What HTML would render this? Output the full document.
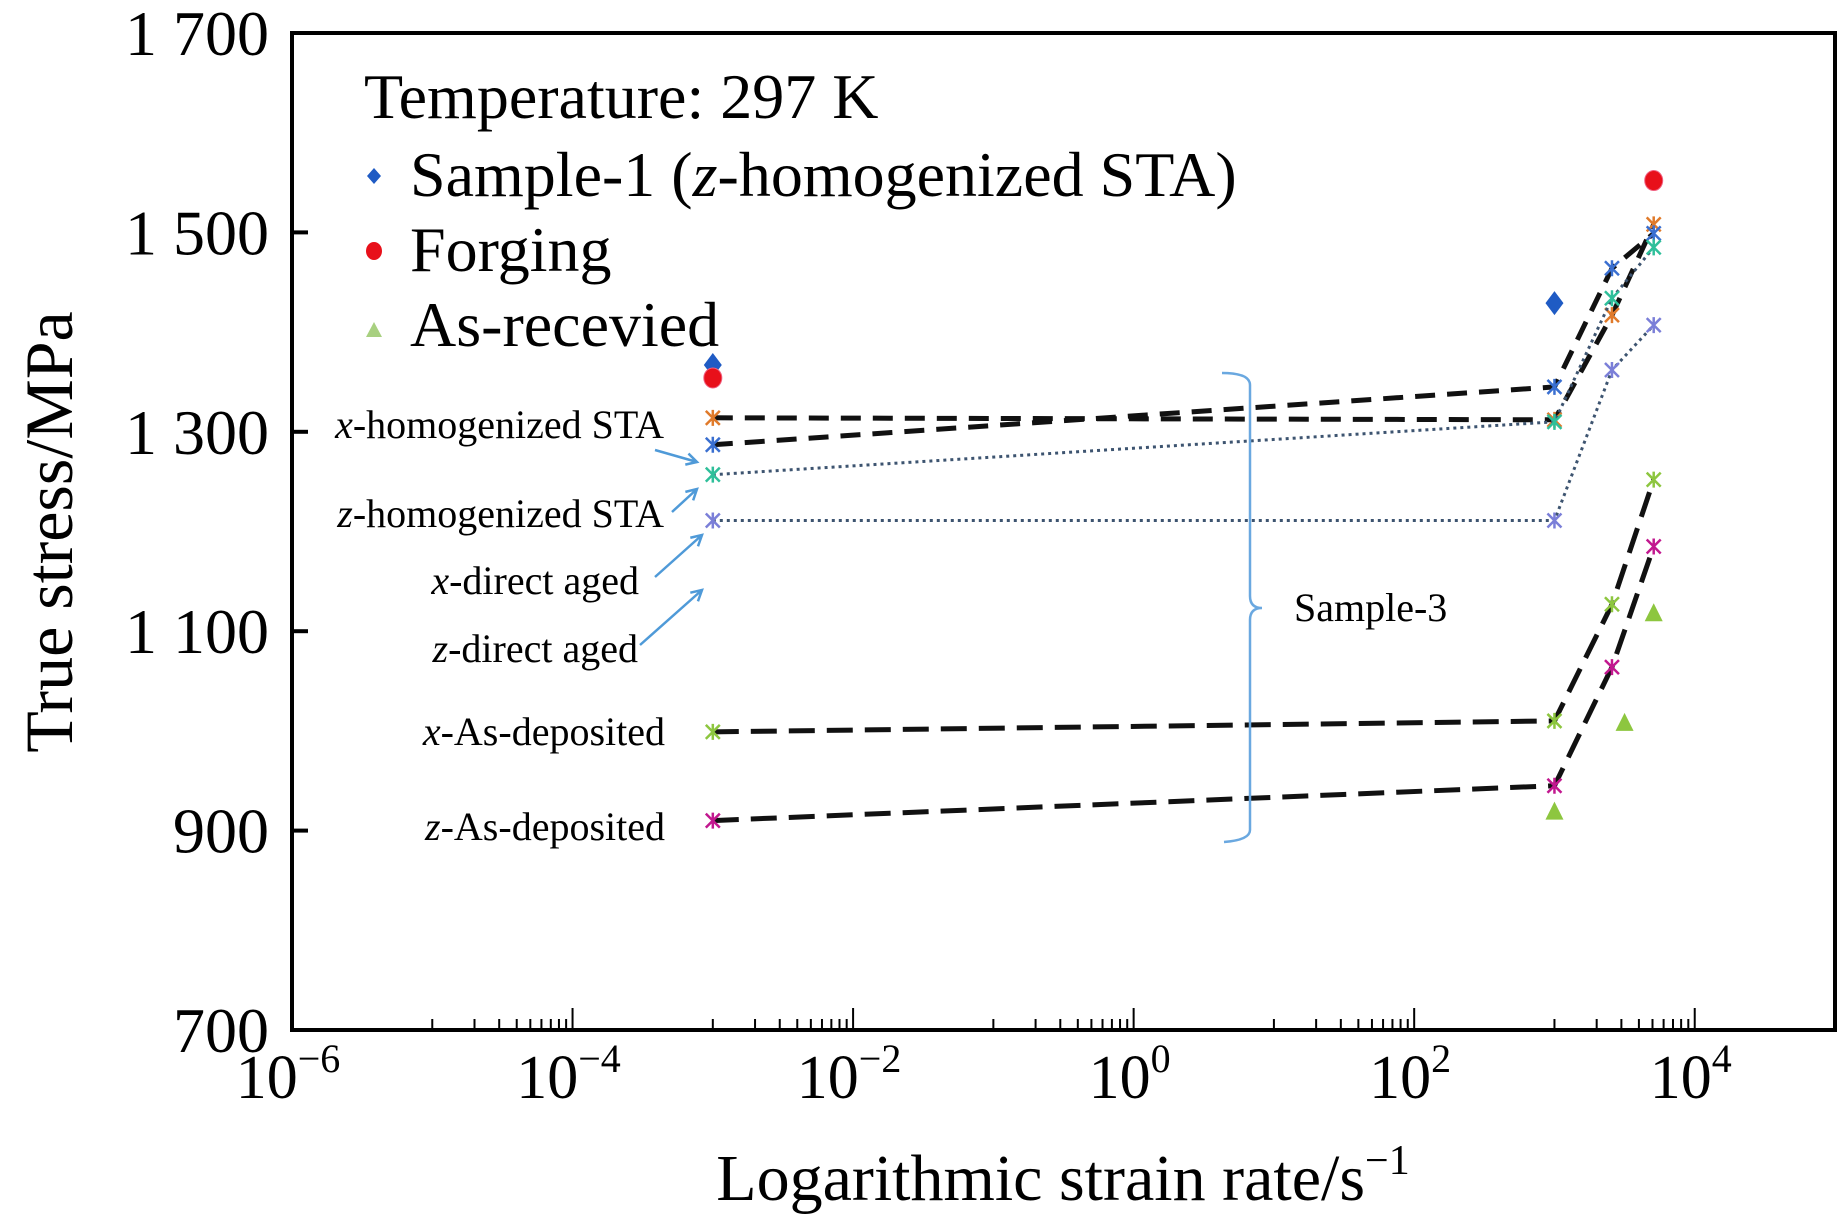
<!DOCTYPE html>
<html><head><meta charset="utf-8"><style>
html,body{margin:0;padding:0;background:#fff;}
svg{display:block;font-family:"Liberation Serif",serif;}
</style></head><body>
<svg id="chart" width="1843" height="1217" viewBox="0 0 1843 1217" xmlns="http://www.w3.org/2000/svg">
<rect x="0" y="0" width="1843" height="1217" fill="#fff"/>
<g id="plot"></g>
</svg>
<script>
// ---- data ----
const yTicks = [700, 900, 1100, 1300, 1500, 1700];
const yTickLabels = ["700", "900", "1 100", "1 300", "1 500", "1 700"];
const xDecades = [-6, -4, -2, 0, 2, 4];
const xTickLabels = ["−6", "−4", "−2", "0", "2", "4"];
const rates = [1e-3, 1e3, 2570, 5100];
const xHomSTA = [1314, 1312, 1417, 1508];
const zHomSTA = [1287, 1345, 1464, 1499];
const xDirectAged = [1257, 1310, 1434, 1485];
const zDirectAged = [1211, 1211, 1362, 1407];
const xAsDep = [999, 1010, 1127, 1252];
const zAsDep = [910, 945, 1064, 1185];
const sample1Rates = [1e-3, 1e3];
const sample1Vals = [1367, 1429];
const forgingRates = [1e-3, 5100];
const forgingVals = [1354, 1552];
const asRecRates = [1e3, 3160, 5100];
const asRecVals = [919, 1008, 1118];

// ---- axes ----
const L = 292, R = 1835, T = 33, B = 1030;
const xMinLog = -6, xMaxLog = 5;
function X(v){ return L + (Math.log10(v) - xMinLog) / (xMaxLog - xMinLog) * (R - L); }
function Y(v){ return B - (v - 700) / 1000 * (B - T); }

const NS = "http://www.w3.org/2000/svg";
const g = document.getElementById('plot');
function mk(tag, attrs, parent){
  const e = document.createElementNS(NS, tag);
  for (const k in attrs) e.setAttribute(k, attrs[k]);
  (parent || g).appendChild(e);
  return e;
}

// frame
const frame = mk('rect', {x:L, y:T, width:R-L, height:B-T, fill:'none', stroke:'#000', 'stroke-width':4});



// y ticks
yTicks.forEach((v, i) => {
  if (v > 700 && v < 1700) {
    const t = mk('line', {x1:L, x2:L+16, y1:Y(v), y2:Y(v), stroke:'#000', 'stroke-width':4});
    
    
  }
  const lb = mk('text', {x:269, y:Y(v)+22, 'text-anchor':'end', 'font-size':64});
  lb.textContent = yTickLabels[i];
  
  
});

// x ticks
for (let d = -6; d < 5; d++) {
  const p = Math.pow(10, d);
  if (d > -6) {
    const major = (d % 2 === 0);
    const t = mk('line', {x1:X(p), x2:X(p), y1:B, y2:B-(major?22:11), stroke:'#000', 'stroke-width':2});
    
    
  }
  if (Math.abs(d % 2) === 1) {
    for (let m = 2; m <= 9; m++) {
      const t = mk('line', {x1:X(m*p), x2:X(m*p), y1:B, y2:B-11, stroke:'#000', 'stroke-width':2});
      
      
    }
  }
}
xDecades.forEach((d, i) => {
  const x = X(Math.pow(10, d));
  const lb = mk('text', {x:x-4, y:1098, 'text-anchor':'middle', 'font-size':62});
  
  
  const base = document.createElementNS(NS, 'tspan'); base.textContent = '10'; lb.appendChild(base);
  const sup = document.createElementNS(NS, 'tspan');
  sup.setAttribute('dy', '-26'); sup.setAttribute('font-size', '40');
  sup.textContent = xTickLabels[i]; lb.appendChild(sup);
});

// axis titles
const yt = mk('text', {x:0, y:0, transform:'translate(72,532) rotate(-90)', 'text-anchor':'middle', 'font-size':68});
yt.textContent = 'True stress/MPa';


const xt = mk('text', {x:1063, y:1200, 'text-anchor':'middle', 'font-size':66});


xt.appendChild(document.createTextNode('Logarithmic strain rate/s'));
const xs = document.createElementNS(NS, 'tspan'); xs.setAttribute('dy','-26'); xs.setAttribute('font-size','42'); xs.textContent='−1'; xt.appendChild(xs);

// series lines
function pts(vals){ return vals.map((v,i)=>X(rates[i]).toFixed(1)+','+Y(v).toFixed(1)).join(' '); }
const seriesDefs = [
  {vals:xHomSTA, name:'x-homogenized-sta-line', dash:'20 12', w:5, col:'#111', mcol:'#e07a2a'},
  {vals:zHomSTA, name:'z-homogenized-sta-line', dash:'20 12', w:5, col:'#111', mcol:'#3a6fd0'},
  {vals:xDirectAged, name:'x-direct-aged-line', dash:'3 4', w:3, col:'#3d5470', mcol:'#2fbf9a'},
  {vals:zDirectAged, name:'z-direct-aged-line', dash:'3 4', w:3, col:'#3d5470', mcol:'#7b7fd8'},
  {vals:xAsDep, name:'x-as-deposited-line', dash:'26 12', w:5, col:'#111', mcol:'#8dc63f'},
  {vals:zAsDep, name:'z-as-deposited-line', dash:'26 12', w:5, col:'#111', mcol:'#c2188f'}
];
seriesDefs.forEach(s => {
  const l = mk('polyline', {points:pts(s.vals), fill:'none', stroke:s.col, 'stroke-width':s.w, 'stroke-dasharray':s.dash});
  
  
  s.vals.forEach((v,i) => {
    const cx = X(rates[i]), cy = Y(v);
    const m = mk('path', {d:`M${cx-7},${cy-7}L${cx+7},${cy+7}M${cx-7},${cy+7}L${cx+7},${cy-7}M${cx},${cy-8}L${cx},${cy+8}`, stroke:s.mcol, 'stroke-width':2.5, fill:'none'});
    
    
  });
});

// scatter points
sample1Vals.forEach((v,i) => {
  const cx = X(sample1Rates[i]), cy = Y(v);
  const d = mk('polygon', {points:`${cx},${cy-12} ${cx+9},${cy} ${cx},${cy+12} ${cx-9},${cy}`, fill:'#1f5bc4'});
  
  
});
forgingVals.forEach((v,i) => {
  const c = mk('ellipse', {cx:X(forgingRates[i]), cy:Y(v), rx:9, ry:10, fill:'#e8101a', stroke:'#f06080', 'stroke-width':1});
  
  
});
asRecVals.forEach((v,i) => {
  const cx = X(asRecRates[i]), cy = Y(v);
  const t = mk('polygon', {points:`${cx},${cy-10} ${cx+9},${cy+8} ${cx-9},${cy+8}`, fill:'#8dc63f'});
  
  
});

// legend
const lg = mk('g', {});


const lt = mk('text', {x:364, y:118, 'font-size':64}, lg); lt.textContent = 'Temperature: 297 K';
 
const e1 = mk('text', {x:410, y:196, 'font-size':64}, lg);
 
e1.appendChild(document.createTextNode('Sample-1 ('));
const zi = document.createElementNS(NS,'tspan'); zi.setAttribute('font-style','italic'); zi.textContent='z'; e1.appendChild(zi);
e1.appendChild(document.createTextNode('-homogenized STA)'));
const e2 = mk('text', {x:410, y:271, 'font-size':64}, lg); e2.textContent = 'Forging';
 
const e3 = mk('text', {x:410, y:346, 'font-size':64}, lg); e3.textContent = 'As-recevied';
 
const lm1 = mk('polygon', {points:'374,168 381,176 374,184 367,176', fill:'#1f5bc4'}, lg);
 
const lm2 = mk('ellipse', {cx:374, cy:251, rx:8, ry:9, fill:'#e8101a'}, lg);
 
const lm3 = mk('polygon', {points:'374,322 382,337 366,337', fill:'#a8d080'}, lg);
 

// annotations
const ann = [
  ['x','-homogenized STA', 664, 438],
  ['z','-homogenized STA', 664, 527],
  ['x','-direct aged', 639, 594],
  ['z','-direct aged', 638, 662],
  ['x','-As-deposited', 665, 745],
  ['z','-As-deposited', 665, 840]
];
ann.forEach(a => {
  const t = mk('text', {x:a[2], y:a[3], 'text-anchor':'end', 'font-size':40});
  
  
  const i = document.createElementNS(NS,'tspan'); i.setAttribute('font-style','italic'); i.textContent=a[0]; t.appendChild(i);
  t.appendChild(document.createTextNode(a[1]));
});
const arrows = [[655,450,697,462],[672,512,697,489],[655,577,702,535],[640,645,702,590]];
arrows.forEach(a => {
  const ang = Math.atan2(a[3]-a[1], a[2]-a[0]);
  const h = 12;
  const p1x = a[2]-h*Math.cos(ang-0.5), p1y = a[3]-h*Math.sin(ang-0.5);
  const p2x = a[2]-h*Math.cos(ang+0.5), p2y = a[3]-h*Math.sin(ang+0.5);
  const ar = mk('path', {d:`M${a[0]},${a[1]}L${a[2]},${a[3]}M${p1x},${p1y}L${a[2]},${a[3]}L${p2x},${p2y}`, stroke:'#4f9ad8', 'stroke-width':2.5, fill:'none'});
  
  
});
const br = mk('path', {d:'M1222,373 Q1250,373 1250,385 L1250,596 Q1250,608 1262,608 Q1250,608 1250,620 L1250,830 Q1250,840 1224,842', stroke:'#6aa8e0', 'stroke-width':2.5, fill:'none'});


const s3 = mk('text', {x:1294, y:621, 'font-size':40}); s3.textContent = 'Sample-3';


</script>
</body></html>
